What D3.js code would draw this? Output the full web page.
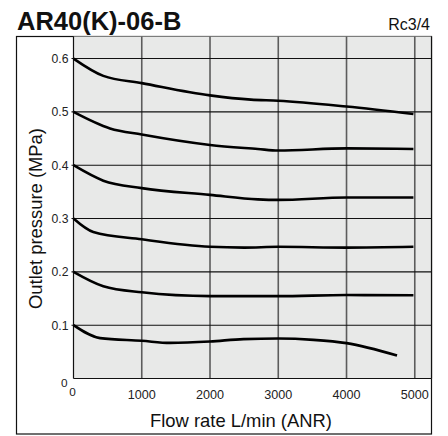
<!DOCTYPE html>
<html><head><meta charset="utf-8">
<script src="https://cdn.jsdelivr.net/npm/d3@7"></script>
<style>body{margin:0;background:#fff}svg{display:block;font-family:"Liberation Sans",Arial,Helvetica,sans-serif}</style>
</head><body><svg id="c" width="448" height="436"></svg>
<script>
const title = "AR40(K)-06-B";
const portSize = "Rc3/4";
const xTicks = [1000, 2000, 3000, 4000, 5000];
const yTicks = [0.1, 0.2, 0.3, 0.4, 0.5, 0.6];
const xLabel = "Flow rate L/min (ANR)";
const yLabel = "Outlet pressure (MPa)";
const flow06 = [0, 437, 1000, 2000, 2600, 3000, 4000, 4980];
const p06 = [0.6, 0.5675, 0.554, 0.531, 0.523, 0.521, 0.510, 0.496];
const flow05 = [0, 535, 1000, 2000, 2700, 3000, 4000, 4980];
const p05 = [0.5, 0.469, 0.4575, 0.438, 0.4305, 0.4275, 0.4315, 0.4305];
const flow04 = [0, 437, 1000, 2000, 2700, 3000, 4000, 4980];
const p04 = [0.4, 0.371, 0.357, 0.3444, 0.336, 0.335, 0.3395, 0.3395];
const flow03 = [0, 290, 1000, 2000, 2500, 3000, 4000, 4980];
const p03 = [0.3, 0.2747, 0.261, 0.247, 0.2455, 0.247, 0.2455, 0.247];
const flow02 = [0, 437, 1000, 2000, 3000, 4000, 4980];
const p02 = [0.2, 0.173, 0.1617, 0.1545, 0.1545, 0.1565, 0.156];
const flow01 = [0, 390, 1000, 1415, 2000, 2490, 3000, 3516, 4000, 4740];
const p01 = [0.1, 0.0757, 0.0707, 0.0668, 0.0694, 0.0739, 0.075, 0.0725, 0.0663, 0.043];
const series = [[flow06,p06],[flow05,p05],[flow04,p04],[flow03,p03],[flow02,p02],[flow01,p01]];

const svg = d3.select("#c");
const L = 73.5, R = 431.5, T = 36.5, B = 378.5;
const x = d3.scaleLinear().domain([0, 5245]).range([L, R]);
const y = d3.scaleLinear().domain([0, 0.6414]).range([B, T]);

svg.append("rect").attr("x",16.5).attr("y",36.5).attr("width",415).attr("height",397.5)
  .attr("fill","#fff").attr("stroke","#111").attr("stroke-width",1.2);
svg.append("rect").attr("x",L).attr("y",T).attr("width",R-L).attr("height",B-T).attr("fill","#e8e9e8");

// vertical grid
svg.append("g").selectAll("line").data(xTicks).join("line")
  .attr("x1",d=>x(d)).attr("x2",d=>x(d)).attr("y1",T).attr("y2",B)
  .attr("stroke","#5c5c5c").attr("stroke-width",1.6);
// horizontal grid
svg.append("g").selectAll("line").data(yTicks).join("line")
  .attr("x1",L-2).attr("x2",R).attr("y1",d=>y(d)).attr("y2",d=>y(d))
  .attr("stroke","#111").attr("stroke-width",1.1);

// axes lines
svg.append("line").attr("x1",L).attr("x2",L).attr("y1",T).attr("y2",B).attr("stroke","#111").attr("stroke-width",1.2);
svg.append("line").attr("x1",L).attr("x2",R).attr("y1",B).attr("y2",B).attr("stroke","#111").attr("stroke-width",1.2);
svg.append("line").attr("x1",R).attr("x2",R).attr("y1",T).attr("y2",B).attr("stroke","#111").attr("stroke-width",1.2);

// tick labels
svg.append("g").selectAll("text").data(yTicks).join("text")
  .attr("x",L-5).attr("y",d=>y(d)).attr("dy","0.36em").attr("text-anchor","end")
  .attr("font-size",12.2).attr("fill","#222").text(d=>d.toFixed(1));
svg.append("g").selectAll("text").data(xTicks).join("text")
  .attr("x",d=>x(d)).attr("y",398.5).attr("text-anchor","middle")
  .attr("font-size",12.6).attr("fill","#222").text(d=>d);
svg.append("text").attr("x",67.5).attr("y",386.7).attr("text-anchor","end").attr("font-size",11.8).attr("fill","#222").text("0");
svg.append("text").attr("x",72.5).attr("y",395.5).attr("text-anchor","middle").attr("font-size",11.8).attr("fill","#222").text("0");

// titles
svg.append("text").attr("x",17).attr("y",29.5).attr("font-size",25.5).attr("font-weight","bold").attr("fill","#111").text(title);
svg.append("text").attr("x",430).attr("y",29.5).attr("text-anchor","end").attr("font-size",16).attr("fill","#111").text(portSize);
svg.append("text").attr("x",241).attr("y",427).attr("text-anchor","middle").attr("font-size",18.4).attr("fill","#111").text(xLabel);
svg.append("text").attr("transform","translate(41.5,218.5) rotate(-90)").attr("text-anchor","middle").attr("font-size",18.4).attr("fill","#111").text(yLabel);

// curves
const line = d3.line().x(d=>x(d[0])).y(d=>y(d[1])).curve(d3.curveMonotoneX);
svg.append("g").selectAll("path").data(series).join("path")
  .attr("d",s=>line(s[0].map((f,i)=>[f,s[1][i]])))
  .attr("fill","none").attr("stroke","#000").attr("stroke-width",2.6).attr("stroke-linecap","butt");
</script></body></html>
